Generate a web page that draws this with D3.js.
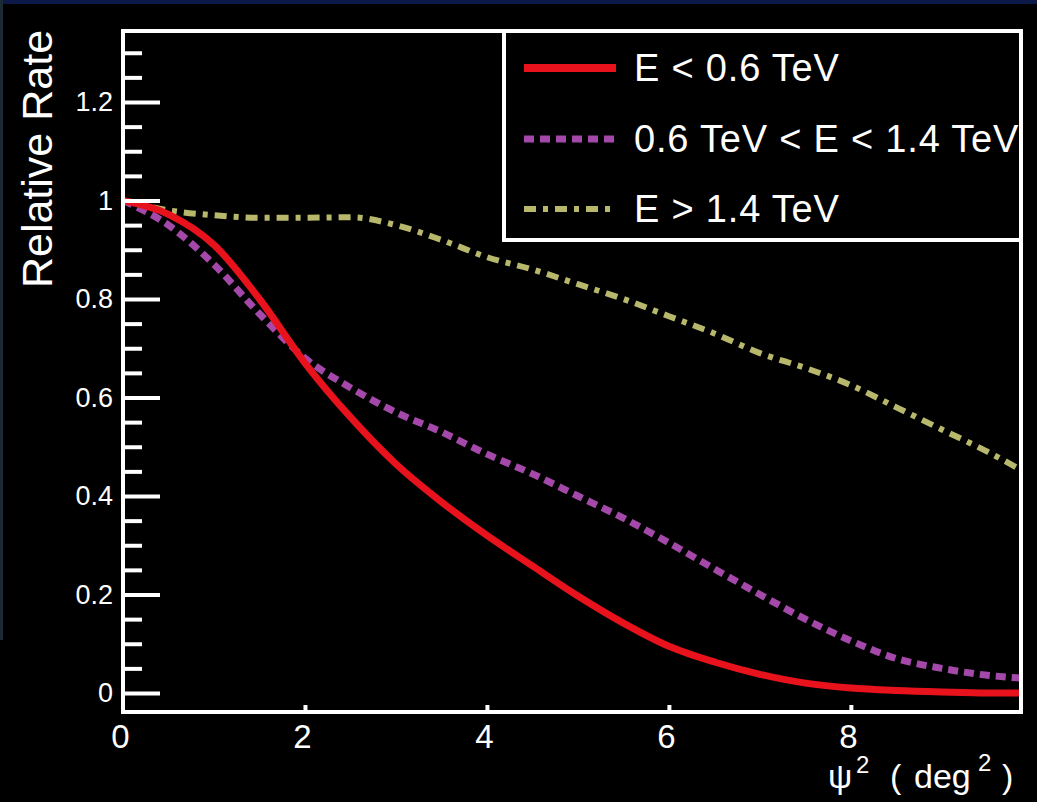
<!DOCTYPE html>
<html>
<head>
<meta charset="utf-8">
<script src="https://cdn.jsdelivr.net/npm/d3@7"></script>
<style>
	html, body { margin: 0; padding: 0; background: #000; overflow: hidden; }
	svg { display: block; }
	text { font-family: "Liberation Sans", Arial, Helvetica, sans-serif; fill: #fff; }
</style>
</head>
<body>
<div id="chart"></div>
<script>
const psi2 = [0, 0.5, 1, 1.5, 2, 2.5, 3, 3.5, 4, 4.5, 5, 5.5, 6, 6.5, 7, 7.5, 8, 8.5, 9, 9.5, 9.9];

const rateLow = [1.0, 0.972, 0.91, 0.8, 0.67, 0.56, 0.465, 0.388, 0.32, 0.258, 0.197, 0.142, 0.095, 0.063, 0.038, 0.02, 0.01, 0.005, 0.002, 0.0, 0.0];
const rateMid = [1.0, 0.95, 0.87, 0.77, 0.68, 0.62, 0.57, 0.53, 0.485, 0.445, 0.4, 0.355, 0.305, 0.252, 0.2, 0.15, 0.106, 0.07, 0.05, 0.036, 0.03];
const rateHigh = [1.0, 0.98, 0.97, 0.965, 0.965, 0.966, 0.95, 0.92, 0.885, 0.86, 0.83, 0.8, 0.765, 0.73, 0.69, 0.66, 0.625, 0.58, 0.535, 0.49, 0.45];

const seriesLabels = ['E < 0.6 TeV', '0.6 TeV < E < 1.4 TeV', 'E > 1.4 TeV'];
const xTicks = [0, 2, 4, 6, 8];
const yTicks = [0, 0.2, 0.4, 0.6, 0.8, 1, 1.2];
const yMinorTicks = [0.05, 0.1, 0.15, 0.25, 0.3, 0.35, 0.45, 0.5, 0.55, 0.65, 0.7, 0.75, 0.85, 0.9, 0.95, 1.05, 1.1, 1.15, 1.25, 1.3];

const width = 1037;
const height = 802;
const plotLeft = 123, plotRight = 1021, plotTop = 31, plotBottom = 712;

const styles = [
	{ color: '#e8121c', width: 7, dash: null },
	{ color: '#a448aa', width: 7, dash: '10,6' },
	{ color: '#b8b86c', width: 6, dash: '12,7,5,7' }
];

const svg = d3.select('#chart')
	.append('svg')
	.attr('width', width)
	.attr('height', height);

svg.append('rect').attr('width', width).attr('height', height).attr('fill', '#000');
// navy slide edges
svg.append('rect').attr('width', width).attr('height', 4).attr('fill', '#0b1848');
svg.append('rect').attr('width', 3).attr('height', 640).attr('fill', '#1c2a36');

const x = d3.scaleLinear()
	.domain([0, 9.87])
	.range([plotLeft, plotRight]);

const y = d3.scaleLinear()
	.domain([0, 1.2])
	.range([693, 102]);

svg.append('clipPath')
	.attr('id', 'plot-clip')
	.append('rect')
	.attr('x', plotLeft)
	.attr('y', plotTop)
	.attr('width', plotRight - plotLeft)
	.attr('height', plotBottom - plotTop);

const line = d3.line()
	.x(d => x(d[0]))
	.y(d => y(d[1]))
	.curve(d3.curveMonotoneX);

const series = [rateLow, rateMid, rateHigh].map(vals => psi2.map((p, i) => [p, vals[i]]));

const plot = svg.append('g').attr('clip-path', 'url(#plot-clip)');

// draw high energy first so red sits on top
[2, 1, 0].forEach(k => {
	plot.append('path')
		.datum(series[k])
		.attr('d', line)
		.attr('fill', 'none')
		.attr('stroke', styles[k].color)
		.attr('stroke-width', styles[k].width)
		.attr('stroke-dasharray', styles[k].dash);
});

// y ticks (major / minor) pointing into the plot
svg.append('g')
	.attr('transform', `translate(${plotLeft}, 0)`)
	.call(d3.axisRight(y).tickValues(yMinorTicks).tickSize(19).tickFormat(''))
	.call(g => g.select('.domain').remove())
	.call(g => g.selectAll('line').attr('stroke', '#fff').attr('stroke-width', 4));

svg.append('g')
	.attr('transform', `translate(${plotLeft}, 0)`)
	.call(d3.axisRight(y).tickValues(yTicks).tickSize(37).tickFormat(''))
	.call(g => g.select('.domain').remove())
	.call(g => g.selectAll('line').attr('stroke', '#fff').attr('stroke-width', 4));

svg.append('g')
	.attr('transform', `translate(${plotLeft}, 0)`)
	.call(d3.axisLeft(y).tickValues(yTicks).tickSize(0).tickPadding(10).tickFormat(d3.format('~g')))
	.call(g => g.select('.domain').remove())
	.call(g => g.selectAll('text')
		.attr('fill', '#f0f0f0')
		.style('font-size', '27px')
		.style('font-family', '"Liberation Sans", Arial, sans-serif'));

// x ticks: short marks up from the bottom line
svg.append('g')
	.attr('transform', `translate(0, ${plotBottom})`)
	.call(d3.axisTop(x).tickValues(xTicks.slice(1)).tickSize(7).tickFormat(''))
	.call(g => g.select('.domain').remove())
	.call(g => g.selectAll('line').attr('stroke', '#fff').attr('stroke-width', 4));

svg.append('g')
	.attr('transform', `translate(-3, ${plotBottom})`)
	.call(d3.axisBottom(x).tickValues(xTicks).tickSize(0).tickPadding(13).tickFormat(d3.format('d')))
	.call(g => g.select('.domain').remove())
	.call(g => g.selectAll('text')
		.attr('fill', '#f0f0f0')
		.style('font-size', '33px')
		.style('font-family', '"Liberation Sans", Arial, sans-serif'));

// frame
svg.append('rect')
	.attr('x', plotLeft)
	.attr('y', plotTop)
	.attr('width', plotRight - plotLeft)
	.attr('height', plotBottom - plotTop)
	.attr('fill', 'none')
	.attr('stroke', '#fff')
	.attr('stroke-width', 4);

// axis titles
svg.append('text')
	.attr('transform', `translate(52, 159) rotate(-90)`)
	.attr('text-anchor', 'middle')
	.style('font-size', '43px')
	.attr('fill', '#f2f2f2')
	.text('Relative Rate');

const xTitle = svg.append('text')
	.attr('y', 788)
	.attr('fill', '#e6e6e6')
	.style('font-size', '34px');
xTitle.append('tspan').attr('x', 828).text('ψ');
xTitle.append('tspan').attr('x', 856).attr('dy', -15).style('font-size', '24px').text('2');
xTitle.append('tspan').attr('x', 890).attr('dy', 15).text('(');
xTitle.append('tspan').attr('x', 914).text('deg');
xTitle.append('tspan').attr('x', 978).attr('dy', -17).style('font-size', '24px').text('2');
xTitle.append('tspan').attr('x', 1002).attr('dy', 17).text(')');

// legend
const legendX = 504, legendBottom = 240;

svg.append('clipPath')
	.attr('id', 'legend-clip')
	.append('rect')
	.attr('x', legendX)
	.attr('y', plotTop)
	.attr('width', plotRight - legendX)
	.attr('height', legendBottom - plotTop);

const legend = svg.append('g');

legend.append('rect')
	.attr('x', legendX)
	.attr('y', plotTop)
	.attr('width', plotRight - legendX)
	.attr('height', legendBottom - plotTop)
	.attr('fill', '#000');

const rowY = [68, 139, 209];
const items = legend.append('g').attr('clip-path', 'url(#legend-clip)');

seriesLabels.forEach((label, i) => {
	items.append('line')
		.attr('x1', 524)
		.attr('x2', 616)
		.attr('y1', rowY[i])
		.attr('y2', rowY[i])
		.attr('stroke', styles[i].color)
		.attr('stroke-width', i === 0 ? 8 : styles[i].width)
		.attr('stroke-dasharray', styles[i].dash);

	items.append('text')
		.attr('x', 634)
		.attr('y', rowY[i] + 13)
		.style('font-size', '38px')
		.style('letter-spacing', '0.8px')
		.text(label);
});

legend.append('rect')
	.attr('x', legendX)
	.attr('y', plotTop)
	.attr('width', plotRight - legendX)
	.attr('height', legendBottom - plotTop)
	.attr('fill', 'none')
	.attr('stroke', '#fff')
	.attr('stroke-width', 4);
</script>
</body>
</html>
